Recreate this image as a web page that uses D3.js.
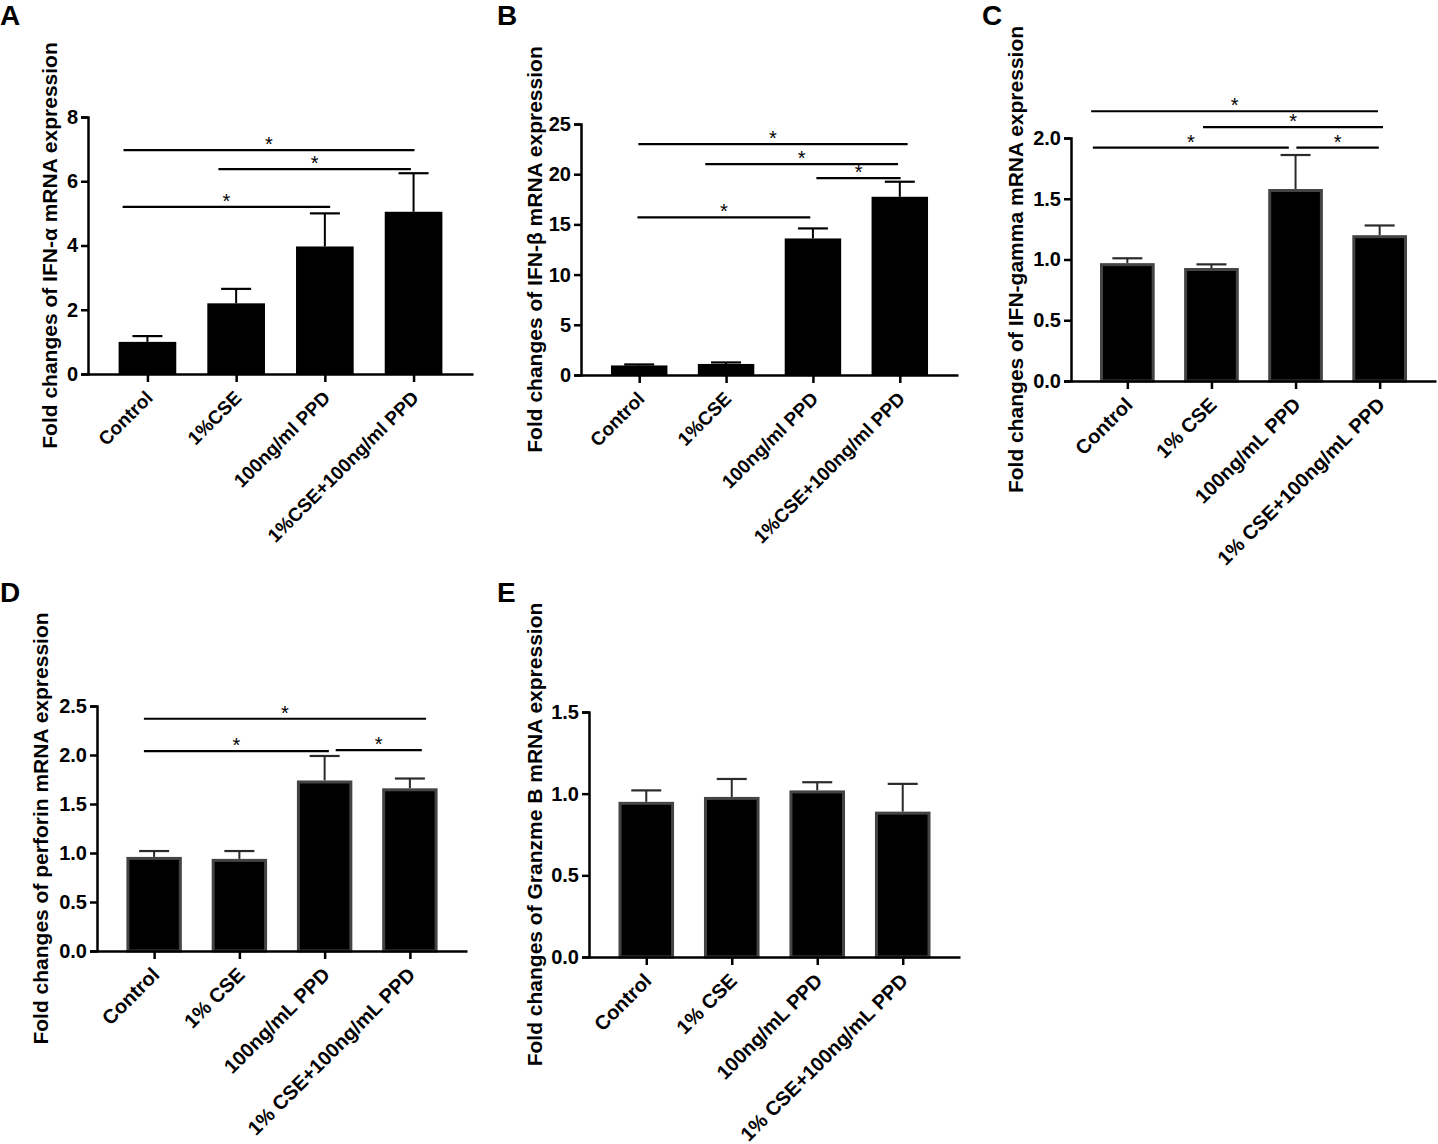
<!DOCTYPE html>
<html>
<head>
<meta charset="utf-8">
<script src="https://cdn.jsdelivr.net/npm/d3@7"></script>
<style>
  body { margin: 0; background: #fff; }
  svg text { font-family: 'Liberation Sans', Arial, sans-serif; }
</style>
</head>
<body>
<div id="chart"></div>
<script>
// group names (panels A/B spell them one way, C/D/E another)
const groupsAB = ['Control', '1%CSE', '100ng/ml PPD', '1%CSE+100ng/ml PPD'];
const groupsCDE = ['Control', '1% CSE', '100ng/mL PPD', '1% CSE+100ng/mL PPD'];

// fold change means and upper error lengths
const ifnAlphaMean = [1.0, 2.2, 3.97, 5.05];
const ifnAlphaErr = [0.18, 0.45, 1.03, 1.2];
const ifnBetaMean = [0.95, 1.1, 13.6, 17.75];
const ifnBetaErr = [0.1, 0.15, 1.0, 1.5];
const ifnGammaMean = [0.97, 0.93, 1.58, 1.2];
const ifnGammaErr = [0.04, 0.03, 0.28, 0.08];
const perforinMean = [0.96, 0.94, 1.74, 1.66];
const perforinErr = [0.06, 0.08, 0.25, 0.1];
const granzmeMean = [0.95, 0.98, 1.02, 0.89];
const granzmeErr = [0.07, 0.11, 0.05, 0.17];

// significance lines: [from, to] in group index units, then height in y units
const sigA = [[-0.27, 3.01, 6.97], [0.8, 2.97, 6.38], [-0.28, 2.06, 5.2]];
const sigB = [[-0.01, 3.09, 23.0], [0.76, 2.98, 21.0], [2.04, 3.01, 19.6], [-0.02, 1.97, 15.7]];
const sigC = [[-0.43, 2.98, 2.22], [0.9, 3.04, 2.09], [-0.41, 1.92, 1.92], [2.01, 2.99, 1.92]];
const sigD = [[-0.12, 3.19, 2.37], [-0.12, 2.05, 2.04], [2.13, 3.14, 2.05]];
const sigE = [];

// y ticks
const ticksA = [0, 2, 4, 6, 8];
const ticksB = [0, 5, 10, 15, 20, 25];
const ticksC = [0, 0.5, 1.0, 1.5, 2.0];
const ticksD = [0, 0.5, 1.0, 1.5, 2.0, 2.5];
const ticksE = [0, 0.5, 1.0, 1.5];

const panels = [
  { letter: 'A', lx: 0, ly: 25, x0: 88, x1: 473, yTop: 117, yBot: 374, titleX: 57, catSize: 19,
    title: 'Fold changes of IFN-α mRNA expression', groups: groupsAB,
    mean: ifnAlphaMean, err: ifnAlphaErr, sig: sigA, ticks: ticksA, fmt: d3.format('d'), outlined: false },
  { letter: 'B', lx: 497, ly: 25, x0: 581, x1: 958, yTop: 124, yBot: 375, titleX: 542, catSize: 19,
    title: 'Fold changes of IFN-β mRNA expression', groups: groupsAB,
    mean: ifnBetaMean, err: ifnBetaErr, sig: sigB, ticks: ticksB, fmt: d3.format('d'), outlined: false },
  { letter: 'C', lx: 982, ly: 25, x0: 1071, x1: 1436, yTop: 138, yBot: 381, titleX: 1023, catSize: 20,
    title: 'Fold changes of IFN-gamma mRNA expression', groups: groupsCDE,
    mean: ifnGammaMean, err: ifnGammaErr, sig: sigC, ticks: ticksC, fmt: d3.format('.1f'), outlined: true },
  { letter: 'D', lx: 0, ly: 602, x0: 97, x1: 467, yTop: 706, yBot: 951, titleX: 48, catSize: 20,
    title: 'Fold changes of perforin mRNA expression', groups: groupsCDE,
    mean: perforinMean, err: perforinErr, sig: sigD, ticks: ticksD, fmt: d3.format('.1f'), outlined: true },
  { letter: 'E', lx: 497, ly: 602, x0: 589, x1: 960, yTop: 712, yBot: 957, titleX: 542, catSize: 20,
    title: 'Fold changes of Granzme B mRNA expression', groups: groupsCDE,
    mean: granzmeMean, err: granzmeErr, sig: sigE, ticks: ticksE, fmt: d3.format('.1f'), outlined: true }
];

const svg = d3.select('#chart')
  .append('svg')
  .attr('width', 1438)
  .attr('height', 1144);

function drawPanel(p) {
  const g = svg.append('g');
  const maxV = d3.max(p.ticks);

  const x = d3.scalePoint()
    .domain(p.groups)
    .range([p.x0, p.x1])
    .padding(0.67);
  // index scale for the significance lines
  const xi = d3.scaleLinear()
    .domain([0, p.groups.length - 1])
    .range([x(p.groups[0]), x(p.groups[p.groups.length - 1])]);
  const y = d3.scaleLinear()
    .domain([0, maxV])
    .range([p.yBot, p.yTop]);
  const barW = x.step() * 0.65;
  const capW = 30;

  // panel letter
  g.append('text')
    .attr('x', p.lx)
    .attr('y', p.ly)
    .attr('font-size', 28)
    .attr('font-weight', 'bold')
    .text(p.letter);

  // bars
  const rows = p.groups.map((name, i) => ({ name, v: p.mean[i], e: p.err[i] }));
  const errColor = p.outlined ? '#2a2a2a' : '#000';

  g.append('g').selectAll('line')
    .data(rows)
    .enter()
    .append('line')
    .attr('x1', d => x(d.name))
    .attr('x2', d => x(d.name))
    .attr('y1', d => y(d.v))
    .attr('y2', d => y(d.v + d.e))
    .attr('stroke', errColor)
    .attr('stroke-width', 2);
  g.append('g').selectAll('line')
    .data(rows)
    .enter()
    .append('line')
    .attr('x1', d => x(d.name) - capW / 2)
    .attr('x2', d => x(d.name) + capW / 2)
    .attr('y1', d => y(d.v + d.e))
    .attr('y2', d => y(d.v + d.e))
    .attr('stroke', errColor)
    .attr('stroke-width', 2.2);

  const sw = p.outlined ? 3 : 0;
  g.append('g').selectAll('rect')
    .data(rows)
    .enter()
    .append('rect')
    .attr('x', d => x(d.name) - barW / 2 + sw / 2)
    .attr('y', d => y(d.v) + sw / 2)
    .attr('width', barW - sw)
    .attr('height', d => y(0) - y(d.v) - sw / 2)
    .attr('fill', '#000')
    .attr('stroke', p.outlined ? '#444' : 'none')
    .attr('stroke-width', sw);

  // significance lines with stars
  const sig = g.append('g').selectAll('g')
    .data(p.sig)
    .enter()
    .append('g');
  sig.append('line')
    .attr('x1', d => xi(d[0]))
    .attr('x2', d => xi(d[1]))
    .attr('y1', d => y(d[2]))
    .attr('y2', d => y(d[2]))
    .attr('stroke', '#000')
    .attr('stroke-width', 2.2);
  sig.append('text')
    .attr('x', d => (xi(d[0]) + xi(d[1])) / 2)
    .attr('y', d => y(d[2]) + 1)
    .attr('text-anchor', 'middle')
    .attr('font-size', 20)
    .text('*');

  // y axis
  const yAxis = g.append('g')
    .attr('transform', `translate(${p.x0},0)`)
    .call(d3.axisLeft(y).tickValues(p.ticks).tickFormat(p.fmt).tickSize(7).tickPadding(3));
  yAxis.select('.domain').attr('stroke-width', 2.5);
  yAxis.selectAll('.tick line').attr('stroke-width', 2.5);
  yAxis.selectAll('.tick text')
    .attr('font-size', 20)
    .attr('font-weight', 'bold')
    .attr('fill', '#000');

  // x axis
  const xAxis = g.append('g')
    .attr('transform', `translate(0,${p.yBot})`)
    .call(d3.axisBottom(x).tickSize(8).tickSizeOuter(0));
  xAxis.select('.domain').attr('stroke-width', 2.5);
  xAxis.selectAll('.tick line').attr('stroke-width', 2.5);
  xAxis.selectAll('.tick text')
    .attr('font-size', p.catSize)
    .attr('font-weight', 'bold')
    .attr('fill', '#000')
    .attr('text-anchor', 'end')
    .attr('dy', null)
    .attr('y', null)
    .attr('transform', 'translate(6,25) rotate(-45)');

  // y title
  g.append('text')
    .attr('transform', `translate(${p.titleX},${(p.yTop + p.yBot) / 2}) rotate(-90)`)
    .attr('text-anchor', 'middle')
    .attr('font-size', 21)
    .attr('font-weight', 'bold')
    .text(p.title);
}

panels.forEach(drawPanel);
</script>
</body>
</html>
